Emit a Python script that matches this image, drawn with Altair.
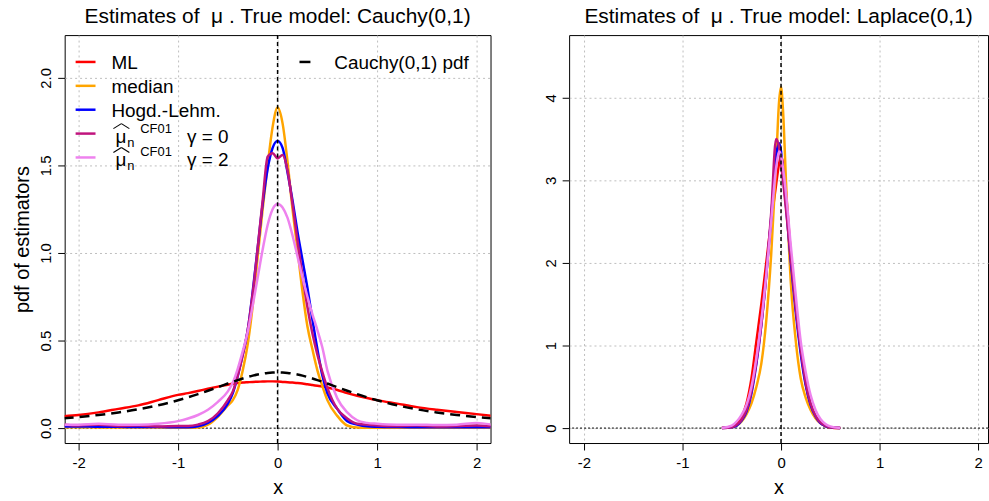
import altair as alt
import pandas as pd

# ---------------- data ----------------
X_LEFT = [-2.15, -2.0, -1.8, -1.6, -1.4, -1.2, -1.0, -0.9, -0.8, -0.7, -0.6, -0.5,
          -0.45, -0.4, -0.35, -0.3, -0.25, -0.2, -0.15, -0.1, -0.05, 0.0,
          0.05, 0.1, 0.15, 0.2, 0.25, 0.3, 0.35, 0.4, 0.45, 0.5,
          0.6, 0.7, 0.8, 0.9, 1.0, 1.2, 1.4, 1.6, 1.8, 2.0, 2.15]

CAUCHY_PDF = [0.0566, 0.0637, 0.0751, 0.0894, 0.1075, 0.1305, 0.1592, 0.1759, 0.1941, 0.2136, 0.2340, 0.2546,
              0.2647, 0.2744, 0.2836, 0.2920, 0.2996, 0.3061, 0.3113, 0.3152, 0.3175, 0.3183,
              0.3175, 0.3152, 0.3113, 0.3061, 0.2996, 0.2920, 0.2836, 0.2744, 0.2647, 0.2546,
              0.2340, 0.2136, 0.1941, 0.1759, 0.1592, 0.1305, 0.1075, 0.0894, 0.0751, 0.0637, 0.0566]

ML_L = [0.068, 0.075, 0.09, 0.11, 0.13, 0.16, 0.19, 0.2, 0.212, 0.225, 0.237, 0.248,
        0.253, 0.257, 0.26, 0.262, 0.264, 0.265, 0.266, 0.267, 0.267, 0.266,
        0.264, 0.262, 0.26, 0.258, 0.255, 0.25, 0.246, 0.242, 0.238, 0.232,
        0.218, 0.2, 0.185, 0.172, 0.16, 0.14, 0.12, 0.105, 0.092, 0.08, 0.07]
MEDIAN_L = [0.005, 0.005, 0.004, 0.004, 0.003, 0.003, 0.002, 0.002, 0.003, 0.02, 0.065, 0.13,
            0.16, 0.22, 0.33, 0.48, 0.7, 0.98, 1.25, 1.5, 1.72, 1.83,
            1.74, 1.52, 1.25, 1.02, 0.78, 0.58, 0.45, 0.33, 0.24, 0.16,
            0.07, 0.015, 0.003, 0.002, 0.002, 0.002, 0.002, 0.002, 0.002, 0.002, 0.002]
HL_L = [0.01, 0.01, 0.008, 0.008, 0.006, 0.006, 0.005, 0.005, 0.01, 0.03, 0.07, 0.14,
        0.2, 0.3, 0.42, 0.56, 0.78, 1.03, 1.28, 1.48, 1.6, 1.64,
        1.6, 1.46, 1.3, 1.12, 0.96, 0.8, 0.62, 0.45, 0.3, 0.2,
        0.11, 0.04, 0.02, 0.01, 0.008, 0.006, 0.005, 0.005, 0.005, 0.005, 0.005]
CF0_L = [0.02, 0.015, 0.02, 0.012, 0.015, 0.01, 0.012, 0.012, 0.02, 0.04, 0.085, 0.16,
         0.21, 0.3, 0.42, 0.56, 0.77, 1.03, 1.3, 1.55, 1.57, 1.54,
         1.56, 1.47, 1.28, 1.07, 0.87, 0.69, 0.54, 0.42, 0.32, 0.23,
         0.11, 0.055, 0.025, 0.02, 0.015, 0.012, 0.015, 0.01, 0.012, 0.015, 0.01]
CF2_L = [0.02, 0.02, 0.025, 0.02, 0.02, 0.025, 0.04, 0.055, 0.075, 0.105, 0.15, 0.21,
         0.26, 0.34, 0.44, 0.55, 0.7, 0.86, 1.02, 1.16, 1.25, 1.28,
         1.26, 1.2, 1.1, 0.98, 0.86, 0.75, 0.65, 0.56, 0.46, 0.33,
         0.17, 0.09, 0.045, 0.03, 0.025, 0.02, 0.02, 0.018, 0.02, 0.03, 0.02]

X_RIGHT = [-0.6, -0.5, -0.45, -0.4, -0.35, -0.3, -0.25, -0.2, -0.15, -0.1, -0.05, -0.02, 0.0,
           0.02, 0.05, 0.1, 0.15, 0.2, 0.25, 0.3, 0.35, 0.4, 0.45, 0.5, 0.6]
ML_R = [0.0, 0.02, 0.06, 0.14, 0.3, 0.6, 1.05, 1.5, 2.0, 2.5, 2.95, 3.2, 3.3,
        3.2, 2.85, 2.1, 1.45, 0.95, 0.55, 0.28, 0.13, 0.06, 0.025, 0.008, 0.0]
MEDIAN_R = [0.0, 0.01, 0.03, 0.08, 0.17, 0.3, 0.5, 0.78, 1.3, 2.1, 3.2, 3.95, 4.13,
            3.85, 3.0, 1.75, 1.05, 0.6, 0.37, 0.22, 0.12, 0.06, 0.025, 0.01, 0.0]
HL_R = [0.0, 0.01, 0.03, 0.09, 0.2, 0.42, 0.78, 1.25, 1.85, 2.55, 3.3, 3.45, 3.35,
        3.1, 2.7, 2.0, 1.4, 0.9, 0.52, 0.28, 0.14, 0.06, 0.025, 0.01, 0.0]
CF0_R = [0.0, 0.01, 0.04, 0.1, 0.22, 0.45, 0.8, 1.25, 1.85, 2.6, 3.5, 3.4, 3.2,
         3.0, 2.65, 2.05, 1.45, 0.95, 0.55, 0.3, 0.15, 0.07, 0.03, 0.01, 0.0]
CF2_R = [0.0, 0.03, 0.08, 0.16, 0.28, 0.5, 0.85, 1.3, 1.85, 2.5, 3.15, 3.35, 3.3,
         3.15, 2.85, 2.2, 1.6, 1.05, 0.68, 0.4, 0.22, 0.11, 0.05, 0.02, 0.0]

COLORS = ["#FF0000", "#FFA500", "#0000FF", "#C0147D", "#EE82EE"]
LEGEND_LABELS = ["ML", "median", "Hogd.-Lehm."]
GAMMA_LABELS = ["\u03b3 = 0", "\u03b3 = 2"]
CAUCHY_LABEL = "Cauchy(0,1) pdf"
TITLES = ["Estimates of \u00a0\u03bc\u00a0. True model: Cauchy(0,1)",
          "Estimates of \u00a0\u03bc\u00a0. True model: Laplace(0,1)"]

FONT = "Liberation Sans"
ONE = pd.DataFrame({"k": [0]})


def panel(xs, series, xdom, ydom, yvals, yfmt, width, height, title, ytitle, cauchy=None, legend=False):
    xsc = alt.Scale(domain=xdom, nice=False, zero=False)
    ysc = alt.Scale(domain=ydom, nice=False, zero=False)
    xax = alt.Axis(values=[-2, -1, 0, 1, 2], labelExpr="'' + datum.value", grid=True,
                   gridDash=[2, 3], gridColor="#bdbdbd", domain=False, tickSize=7,
                   tickColor="black", labelFontSize=15, labelColor="black", labelPadding=6,
                   title="x", titleFontSize=20, titleFontWeight="normal", titlePadding=7,
                   titleColor="black", labelFlush=False)
    yargs = dict(values=yvals, format=yfmt, grid=True, gridDash=[2, 3], gridColor="#bdbdbd",
                 domain=False, tickSize=7, tickColor="black", labelFontSize=15,
                 labelColor="black", labelPadding=4, labelAngle=-90, labelAlign="center",
                 labelBaseline="bottom", labelFlush=False)
    if ytitle:
        yax = alt.Axis(title=ytitle, titleFontSize=20, titleFontWeight="normal",
                       titlePadding=6, titleColor="black", **yargs)
    else:
        yax = alt.Axis(title=None, **yargs)

    def X(f):
        return alt.X(f, scale=xsc, axis=xax)

    def Y(f):
        return alt.Y(f, scale=ysc, axis=yax)

    layers = []
    # horizontal dotted zero line
    layers.append(alt.Chart(pd.DataFrame({"y": [0]})).mark_rule(
        color="black", strokeDash=[2, 2], strokeWidth=1).encode(y=Y("y:Q")))
    for vals, col in zip(series, COLORS):
        df = pd.DataFrame({"x": xs, "y": vals})
        layers.append(alt.Chart(df).mark_line(color=col, strokeWidth=2.5, clip=True,
                                              interpolate="monotone")
                      .encode(x=X("x:Q"), y=Y("y:Q")))
    if cauchy is not None:
        df = pd.DataFrame({"x": xs, "y": cauchy})
        layers.append(alt.Chart(df).mark_line(color="black", strokeWidth=2.5, strokeDash=[10, 6],
                                              clip=True, interpolate="monotone")
                      .encode(x=X("x:Q"), y=Y("y:Q")))
    # vertical line at 0
    layers.append(alt.Chart(pd.DataFrame({"x": [0]})).mark_rule(
        color="black", strokeDash=[4, 3], strokeWidth=1.5).encode(x=X("x:Q")))

    if legend:
        for i in range(5):
            ly = 27 + 24 * i
            layers.append(alt.Chart(ONE).mark_rule(color=COLORS[i], strokeWidth=2.5).encode(
                x=alt.value(11), x2=alt.value(31), y=alt.value(ly)))
            if i < 3:
                layers.append(alt.Chart(ONE).mark_text(align="left", baseline="alphabetic",
                                                       fontSize=19, font=FONT, color="black")
                              .encode(x=alt.value(47), y=alt.value(ly + 7),
                                      text=alt.value(LEGEND_LABELS[i])))
            else:
                # hat over mu, drawn as two short strokes
                for (xa, ya, xb, yb) in [(49, ly - 5, 57, ly - 10), (57, ly - 10, 65, ly - 5)]:
                    layers.append(alt.Chart(ONE).mark_rule(color="black", strokeWidth=1.1).encode(
                        x=alt.value(xa), y=alt.value(ya), x2=alt.value(xb), y2=alt.value(yb)))
                parts = [("\u03bc", 51, ly + 9, 19),
                         ("n", 63, ly + 13, 13),
                         ("CF01", 76, ly - 1, 13),
                         (GAMMA_LABELS[i - 3], 123, ly + 9, 19)]
                for txt, px, py, fs in parts:
                    layers.append(alt.Chart(ONE).mark_text(align="left", baseline="alphabetic",
                                                           fontSize=fs, font=FONT, color="black")
                                  .encode(x=alt.value(px), y=alt.value(py), text=alt.value(txt)))
        layers.append(alt.Chart(ONE).mark_rule(color="black", strokeWidth=2.5).encode(
            x=alt.value(236), x2=alt.value(247), y=alt.value(27)))
        layers.append(alt.Chart(ONE).mark_text(align="left", baseline="alphabetic",
                                               fontSize=19, font=FONT, color="black")
                      .encode(x=alt.value(271), y=alt.value(34), text=alt.value(CAUCHY_LABEL)))

    return alt.layer(*layers).properties(
        width=width, height=height,
        title=alt.TitleParams(title, fontSize=21, fontWeight="normal", font=FONT,
                              color="black", anchor="middle", offset=7))


left = panel(X_LEFT, [ML_L, MEDIAN_L, HL_L, CF0_L, CF2_L], [-2.14, 2.14], [-0.085, 2.244],
             [0, 0.5, 1, 1.5, 2], ".1f", 428, 410, TITLES[0], "pdf of estimators",
             cauchy=CAUCHY_PDF, legend=True)
right = panel(X_RIGHT, [ML_R, MEDIAN_R, HL_R, CF0_R, CF2_R], [-2.15, 2.10], [-0.181, 4.759],
              [0, 1, 2, 3, 4], "d", 421, 410, TITLES[1], None)

chart = alt.hconcat(left, right, spacing=51).properties(
    padding={"left": 12, "top": 4, "right": 0, "bottom": 0}
).configure(font=FONT).configure_view(stroke="black", strokeWidth=1)

chart.save("out.html", embed_options={"renderer": "svg", "actions": False})
